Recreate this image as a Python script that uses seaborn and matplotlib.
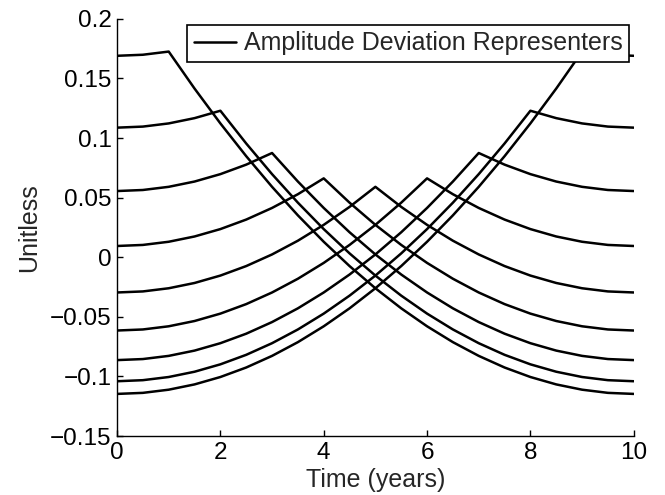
import matplotlib
matplotlib.use("Agg")
import matplotlib.pyplot as plt
import seaborn as sns
import pandas as pd

times = [0.0, 0.5, 1.0, 1.5, 2.0, 2.5, 3.0, 3.5, 4.0, 4.5, 5.0,
         5.5, 6.0, 6.5, 7.0, 7.5, 8.0, 8.5, 9.0, 9.5, 10.0]

rep_1 = [0.16898, 0.16986, 0.17252, 0.14150, 0.11226, 0.08478, 0.05908, 0.03515,
         0.01300, -0.00739, -0.02600, -0.04284, -0.05790, -0.07120, -0.08272,
         -0.09247, -0.10044, -0.10665, -0.11108, -0.11374, -0.11462]
rep_2 = [0.10871, 0.10960, 0.11226, 0.11669, 0.12289, 0.09542, 0.06972, 0.04579,
         0.02363, 0.00325, -0.01536, -0.03220, -0.04727, -0.06056, -0.07208,
         -0.08183, -0.08981, -0.09601, -0.10044, -0.10310, -0.10399]
rep_3 = [0.05554, 0.05642, 0.05908, 0.06351, 0.06972, 0.07769, 0.08744, 0.06351,
         0.04136, 0.02097, 0.00236, -0.01448, -0.02954, -0.04284, -0.05436,
         -0.06411, -0.07208, -0.07829, -0.08272, -0.08538, -0.08626]
rep_4 = [0.00945, 0.01034, 0.01300, 0.01743, 0.02363, 0.03161, 0.04136, 0.05288,
         0.06617, 0.04579, 0.02718, 0.01034, -0.00473, -0.01802, -0.02954,
         -0.03929, -0.04727, -0.05347, -0.05790, -0.06056, -0.06145]
rep_5 = [-0.02954, -0.02866, -0.02600, -0.02157, -0.01536, -0.00739, 0.00236, 0.01388,
         0.02718, 0.04224, 0.05908, 0.04224, 0.02718, 0.01388, 0.00236,
         -0.00739, -0.01536, -0.02157, -0.02600, -0.02866, -0.02954]
rep_6 = [-0.06145, -0.06056, -0.05790, -0.05347, -0.04727, -0.03929, -0.02954, -0.01802,
         -0.00473, 0.01034, 0.02718, 0.04579, 0.06617, 0.05288, 0.04136,
         0.03161, 0.02363, 0.01743, 0.01300, 0.01034, 0.00945]
rep_7 = [-0.08626, -0.08538, -0.08272, -0.07829, -0.07208, -0.06411, -0.05436, -0.04284,
         -0.02954, -0.01448, 0.00236, 0.02097, 0.04136, 0.06351, 0.08744,
         0.07769, 0.06972, 0.06351, 0.05908, 0.05642, 0.05554]
rep_8 = [-0.10399, -0.10310, -0.10044, -0.09601, -0.08981, -0.08183, -0.07208, -0.06056,
         -0.04727, -0.03220, -0.01536, 0.00325, 0.02363, 0.04579, 0.06972,
         0.09542, 0.12289, 0.11669, 0.11226, 0.10960, 0.10871]
rep_9 = [-0.11462, -0.11374, -0.11108, -0.10665, -0.10044, -0.09247, -0.08272, -0.07120,
         -0.05790, -0.04284, -0.02600, -0.00739, 0.01300, 0.03515, 0.05908,
         0.08478, 0.11226, 0.14150, 0.17252, 0.16986, 0.16898]

curves = [rep_1, rep_2, rep_3, rep_4, rep_5, rep_6, rep_7, rep_8, rep_9]

x_ticks = [0, 2, 4, 6, 8, 10]
x_tick_labels = ["0", "2", "4", "6", "8", "10"]
y_ticks = [-0.15, -0.1, -0.05, 0, 0.05, 0.1, 0.15, 0.2]
y_tick_labels = ["\u22120.15", "\u22120.1", "\u22120.05", "0", "0.05", "0.1", "0.15", "0.2"]

rows = []
for i, c in enumerate(curves):
    for t, v in zip(times, c):
        rows.append({"t": t, "v": v, "curve": i})
df = pd.DataFrame(rows)

sns.set_style("white")
plt.rcParams["font.family"] = ["Liberation Sans", "DejaVu Sans"]

fig = plt.figure(figsize=(6.65, 4.95), dpi=100)
ax = fig.add_axes([0.176, 0.119, 0.777, 0.843])

sns.lineplot(data=df, x="t", y="v", units="curve", estimator=None, sort=False,
             color="black", linewidth=1.8, ax=ax, legend=False)

ax.set_xlim(0, 10)
ax.set_ylim(-0.15, 0.2)
ax.set_xticks(x_ticks)
ax.set_xticklabels(x_tick_labels)
ax.set_yticks(y_ticks)
ax.set_yticklabels(y_tick_labels)
ax.tick_params(direction="in", length=4, width=1, labelsize=17.5, colors="black",
               top=False, right=False, bottom=True, left=True, pad=4)
for s in ["top", "right"]:
    ax.spines[s].set_visible(False)
for s in ["left", "bottom"]:
    ax.spines[s].set_color("black")
    ax.spines[s].set_linewidth(1.0)

ax.set_xlabel("Time (years)", fontsize=18, labelpad=3)
ax.set_ylabel("Unitless", fontsize=18, labelpad=6)

line0 = ax.get_lines()[0]
leg = ax.legend([line0], ["Amplitude Deviation Representers"], loc="upper right",
                bbox_to_anchor=(0.99, 0.985), fontsize=18, frameon=True, fancybox=False,
                handlelength=1.7, handletextpad=0.3, borderpad=0.25, borderaxespad=0.0)
leg.get_frame().set_edgecolor("black")
leg.get_frame().set_linewidth(1.2)
leg.get_frame().set_alpha(1)

fig.savefig("out.png", dpi=100)
